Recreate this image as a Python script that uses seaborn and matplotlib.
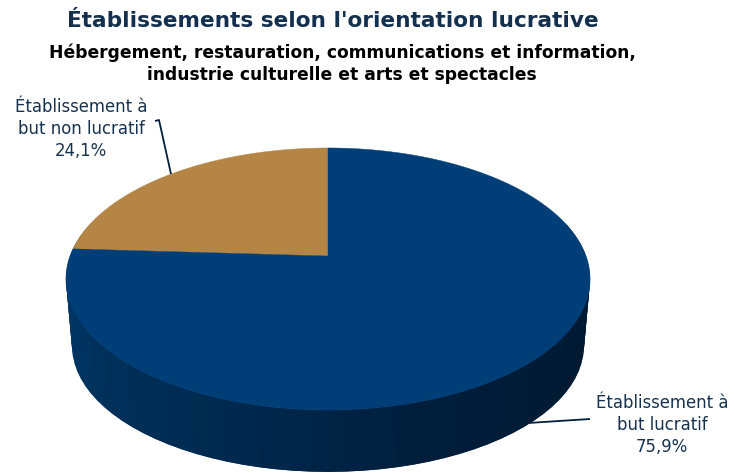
#!/usr/bin/env python3
# coding: utf-8

import numpy as np
import seaborn as sns
from matplotlib import pyplot as plt

sns.set_theme(style="white")

# data
shares = [75.9, 24.1]
names = ["Établissement à\nbut lucratif", "Établissement à\nbut non lucratif"]
top_colors = ["#003e78", "#b58546"]
title = "Établissements selon l'orientation lucrative"
subtitle = ("Hébergement, restauration, communications et information,\n"
            "industrie culturelle et arts et spectacles")

# fake 3d geometry, in pixels
CX = 328
K = 0.1756


def rim(theta, y0, a, b):
    u, v = np.cos(theta), np.sin(theta)
    d = 1 + K * v
    return CX + b * u / d, y0 - a * v / d


def top_rim(theta):
    return rim(theta, 256, 127, 258)


def low_rim(theta):
    return rim(theta, 324, 122, 252)


fig = plt.figure(figsize=[7.35, 4.73], dpi=100)
ax = fig.add_axes([0, 0, 1, 1])
ax.set_xlim(0, 735)
ax.set_ylim(473, 0)
ax.axis("off")

# side wall, dark strips going left to right
n = 64
edges = np.radians(np.linspace(165, 375, n + 1))
shade = sns.blend_palette(["#003a6f", "#00335f", "#002a50", "#001d3a", "#001a33", "#001a33"], n)
for i in range(n):
    # one step past the next edge so that no seam shows between strips
    j = min(i + 2, n)
    x1, y1 = top_rim(edges[i])
    x2, y2 = top_rim(edges[j])
    x3, y3 = low_rim(edges[j])
    x4, y4 = low_rim(edges[i])
    ax.fill([x1, x2, x3, x4], [y1, y2, y3, y4], color=shade[i], lw=0)

# top face, slices run clockwise from twelve o'clock, the last one ends there
start = np.pi / 2
for share, color in zip(shares[::-1], top_colors[::-1]):
    sweep = 2 * np.pi * share / np.sum(shares)
    t = np.linspace(start, start + sweep, 300)
    x, y = top_rim(t)
    ax.fill(np.r_[CX, x], np.r_[256, y], color=color, lw=0.3)
    start += sweep

# leader lines
line_color = "#00203f"
ax.plot([155, 159, 171], [121, 120, 174], color=line_color, lw=1.3, solid_capstyle="butt")
ax.plot([528, 590], [423, 419], color=line_color, lw=1.3, solid_capstyle="butt")

# labels
text_color = "#17324f"
ax.text(81, 129, "%s\n%s%%" % (names[1], str(shares[1]).replace(".", ",")),
        ha="center", va="center", fontsize=11.9, color=text_color,
        family="DejaVu Sans", linespacing=1.28)
ax.text(662, 425, "%s\n%s%%" % (names[0], str(shares[0]).replace(".", ",")),
        ha="center", va="center", fontsize=11.9, color=text_color,
        family="DejaVu Sans", linespacing=1.28)

ax.text(333, 21, title, ha="center", va="center", fontsize=15.6, fontweight="bold",
        color="#14304f", family="DejaVu Sans")
ax.text(342, 64, subtitle, ha="center", va="center", fontsize=12.3, fontweight="bold",
        color="black", family="DejaVu Sans", linespacing=1.25)

plt.savefig("out.png", dpi=100, facecolor="white")
